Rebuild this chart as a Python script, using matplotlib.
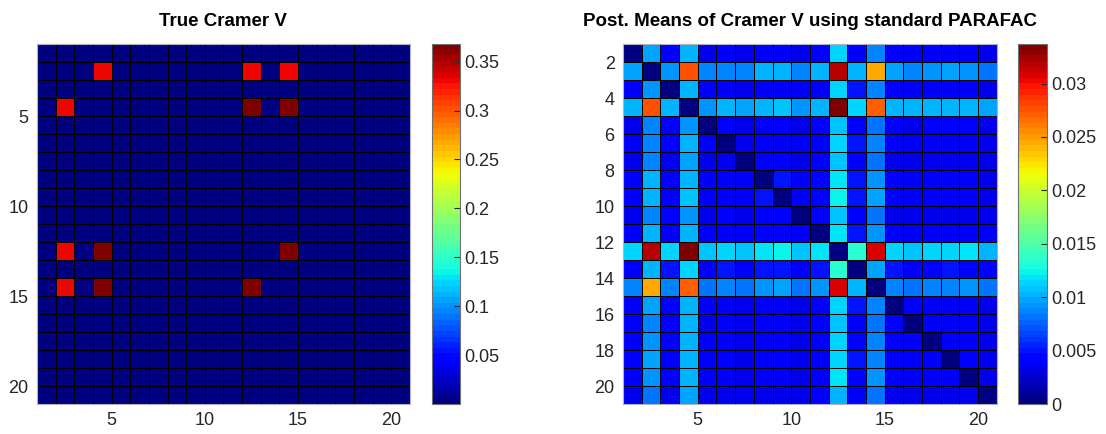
import numpy as np
import matplotlib
matplotlib.use("Agg")
import matplotlib.pyplot as plt

plt.rcParams['font.family'] = ['Liberation Sans', 'DejaVu Sans']

# --- datos ---
n_vars = 20

# True Cramer V: solo algunas parejas distintas de cero (matriz simetrica)
true_pairs = [(2, 4), (2, 12), (2, 14), (4, 12), (4, 14), (12, 14)]
true_vals = [0.33, 0.33, 0.33, 0.368, 0.368, 0.368]

# Medias posteriores (x 1e-3), leidas fila a fila
post_means_e3 = [
    [0, 9.5, 3.9, 10.1, 3.3, 3.9, 3.5, 3.9, 3.9, 3.4, 3.9, 11.4, 3.9, 8.9, 3.9, 3.9, 3.9, 3.9, 3.9, 3.5],
    [9.5, 0, 9.3, 27.6, 8.9, 8.9, 8.9, 10.1, 10.1, 8.9, 10.1, 31.8, 10.5, 24.3, 9.7, 8.9, 9.3, 9.7, 9.3, 8.4],
    [3.9, 9.3, 0, 10.1, 3.9, 3.9, 3.4, 3.9, 3.9, 3.9, 3.9, 11.4, 5.0, 8.9, 3.9, 3.9, 3.9, 3.9, 3.9, 3.5],
    [10.1, 27.6, 10.1, 0, 9.3, 10.1, 9.7, 10.5, 11.0, 9.3, 10.5, 33.7, 11.4, 27.3, 10.1, 10.1, 10.1, 10.1, 10.1, 9.7],
    [3.3, 8.9, 3.9, 9.3, 0, 3.9, 3.4, 3.9, 3.9, 3.4, 3.9, 11.0, 3.9, 8.4, 3.9, 3.6, 3.9, 3.9, 3.9, 3.5],
    [3.9, 8.9, 3.9, 10.1, 3.9, 0, 3.4, 3.9, 3.9, 3.9, 3.9, 11.4, 5.0, 8.9, 3.9, 3.9, 3.9, 3.9, 3.9, 3.6],
    [3.5, 8.9, 3.4, 9.7, 3.4, 3.4, 0, 3.9, 3.9, 3.4, 3.9, 11.0, 3.9, 8.4, 3.6, 3.4, 3.4, 3.5, 3.5, 3.4],
    [3.9, 10.1, 3.9, 10.5, 3.9, 3.9, 3.9, 0, 5.0, 3.9, 4.5, 11.8, 5.0, 9.3, 3.9, 3.9, 3.9, 3.9, 3.9, 3.6],
    [3.9, 10.1, 3.9, 11.0, 3.9, 3.9, 3.9, 5.0, 0, 3.9, 4.5, 12.6, 5.0, 9.7, 3.9, 3.9, 3.9, 3.9, 3.9, 3.6],
    [3.4, 8.9, 3.9, 9.3, 3.4, 3.9, 3.4, 3.9, 3.9, 0, 3.9, 11.0, 3.9, 8.4, 3.6, 3.5, 3.6, 3.6, 3.6, 3.5],
    [3.9, 10.1, 3.9, 10.5, 3.9, 3.9, 3.9, 4.5, 4.5, 3.9, 0, 11.8, 5.0, 9.3, 3.9, 3.9, 3.9, 3.9, 3.9, 3.7],
    [11.4, 31.8, 11.4, 33.7, 11.0, 11.4, 11.0, 11.8, 12.6, 11.0, 11.8, 0, 13.4, 30.6, 11.4, 11.0, 11.4, 11.4, 11.8, 10.5],
    [3.9, 10.5, 5.0, 11.4, 3.9, 5.0, 3.9, 5.0, 5.0, 3.9, 5.0, 13.4, 0, 9.7, 5.0, 3.9, 4.6, 4.8, 4.6, 3.9],
    [8.9, 24.3, 8.9, 27.3, 8.4, 8.9, 8.4, 9.3, 9.7, 8.4, 9.3, 30.6, 10.1, 0, 8.9, 8.0, 8.9, 8.9, 9.3, 8.4],
    [3.9, 9.7, 3.9, 10.1, 3.9, 3.9, 3.6, 3.9, 3.9, 3.6, 3.9, 11.4, 5.0, 8.9, 0, 3.9, 3.9, 3.9, 3.9, 3.6],
    [3.9, 8.9, 3.9, 10.1, 3.6, 3.9, 3.4, 3.9, 3.9, 3.5, 3.9, 11.0, 3.9, 8.0, 3.9, 0, 3.9, 3.9, 3.9, 3.6],
    [3.9, 9.3, 3.9, 10.1, 3.9, 3.9, 3.4, 3.9, 3.9, 3.6, 3.9, 11.4, 4.6, 8.9, 3.9, 3.9, 0, 3.9, 3.9, 3.6],
    [3.9, 9.7, 3.9, 10.1, 3.9, 3.9, 3.5, 3.9, 3.9, 3.6, 3.9, 11.4, 4.8, 8.9, 3.9, 3.9, 3.9, 0, 3.9, 3.6],
    [3.9, 9.3, 3.9, 10.1, 3.9, 3.9, 3.5, 3.9, 3.9, 3.6, 3.9, 11.8, 4.6, 9.3, 3.9, 3.9, 3.9, 3.9, 0, 3.6],
    [3.5, 8.4, 3.5, 9.7, 3.5, 3.6, 3.4, 3.6, 3.6, 3.5, 3.7, 10.5, 3.9, 8.4, 3.6, 3.6, 3.6, 3.6, 3.6, 0],
]

left_ticks = [5, 10, 15, 20]
right_yticks = [2, 4, 6, 8, 10, 12, 14, 16, 18, 20]
cb_left_ticks = [0.05, 0.1, 0.15, 0.2, 0.25, 0.3, 0.35]
cb_right_ticks = [0, 0.005, 0.01, 0.015, 0.02, 0.025, 0.03]

# --- matrices ---
true_v = np.zeros((n_vars, n_vars))
for (i, j), v in zip(true_pairs, true_vals):
    true_v[i - 1, j - 1] = v
    true_v[j - 1, i - 1] = v
post_v = np.array(post_means_e3) * 1e-3

edges = np.arange(1, n_vars + 2)
cmap = plt.get_cmap('jet', 64)
tick_col = '#262626'

fig = plt.figure(figsize=(11.06, 4.34), dpi=100)

def dibujar(ax_rect, cb_rect, mat, titulo, yticks, cbticks, cblabels):
    ax = fig.add_axes(ax_rect)
    cax = fig.add_axes(cb_rect)
    m = ax.pcolormesh(edges, edges, mat, cmap=cmap, vmin=0, vmax=mat.max(),
                      edgecolors='k', linewidth=0.7)
    ax.set_xlim(1, n_vars + 1)
    ax.set_ylim(n_vars + 1, 1)
    ax.set_xticks(left_ticks)
    ax.set_yticks(yticks)
    ax.tick_params(direction='in', length=0, labelsize=13, colors=tick_col, pad=6)
    for s in ax.spines.values():
        s.set_color('#b0b0c0')
        s.set_linewidth(0.8)
    ax.set_title(titulo, fontsize=13.5, fontweight='bold', pad=13)
    cb = fig.colorbar(m, cax=cax)
    cb.set_ticks(cbticks)
    cb.set_ticklabels(cblabels)
    cb.ax.tick_params(direction='in', length=4, labelsize=13, colors=tick_col, pad=3)
    cb.outline.set_edgecolor('#707070')
    cb.outline.set_linewidth(0.8)
    return ax

dibujar([0.0335, 0.069, 0.337, 0.8295], [0.3906, 0.069, 0.0253, 0.8295],
        true_v, 'True Cramer V', left_ticks, cb_left_ticks,
        ['0.05', '0.1', '0.15', '0.2', '0.25', '0.3', '0.35'])
dibujar([0.5633, 0.069, 0.338, 0.8295], [0.9204, 0.069, 0.0262, 0.8295],
        post_v, 'Post. Means of Cramer V using standard PARAFAC', right_yticks,
        cb_right_ticks, ['0', '0.005', '0.01', '0.015', '0.02', '0.025', '0.03'])

fig.savefig('out.png', dpi=100)
